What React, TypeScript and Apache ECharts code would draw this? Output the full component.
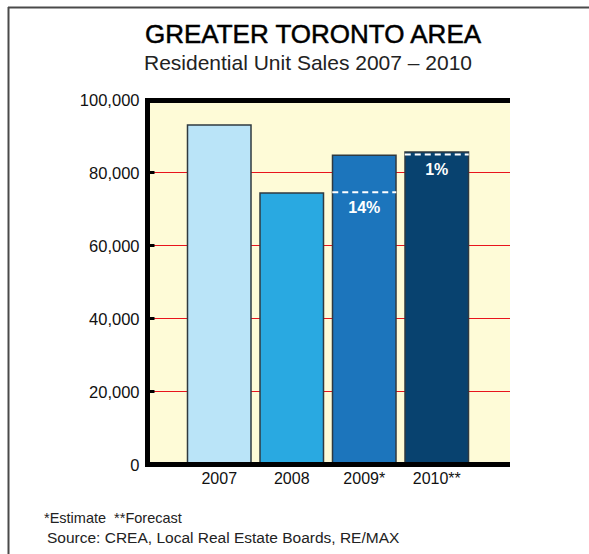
import React, { useEffect, useRef } from "react";
import * as echarts from "echarts";

const categories = ["2007", "2008", "2009*", "2010**"];
const sales = [93200, 74600, 84900, 85800];
const barColors = ["#bae4f8", "#29a9e1", "#1c75bc", "#08426f"];
const changeLabels = ["", "", "14%", "1%"];
const yTicks = [0, 20000, 40000, 60000, 80000, 100000];

const FONT = "'Liberation Sans', Arial, Helvetica, sans-serif";

export default function App() {
  const ref = useRef<HTMLDivElement>(null);
  useEffect(() => {
    document.body.style.margin = "0";
    const chart = echarts.init(ref.current!, undefined, { renderer: "svg" });
    const markData = sales
      .map((v, i) => (changeLabels[i] ? [i, sales[i - 1], changeLabels[i]] : null))
      .filter((d) => d !== null);
    const gridTop = 99.5;
    const gridH = 365;
    const plotLeft = 147.5;
    const plotRight = 510;
    chart.setOption({
      animation: false,
      backgroundColor: "#ffffff",
      textStyle: { fontFamily: FONT },
      grid: [
        {
          left: plotLeft,
          top: gridTop,
          width: plotRight - plotLeft,
          height: gridH,
          show: true,
          backgroundColor: "#fefbd7",
          borderColor: "transparent",
          borderWidth: 0,
          z: 0,
        },
        { left: 183, top: gridTop, width: 290, height: gridH },
      ],
      xAxis: [
        { gridIndex: 0, type: "value", min: 0, max: 1, show: false },
        {
          gridIndex: 1,
          type: "category",
          data: categories,
          axisLine: { show: false },
          axisTick: { show: false },
          axisLabel: { color: "#111", fontSize: 16, margin: 6, fontFamily: FONT },
        },
      ],
      yAxis: [
        {
          gridIndex: 0,
          type: "value",
          min: yTicks[0],
          max: yTicks[yTicks.length - 1],
          interval: 20000,
          axisLine: { show: false },
          axisTick: { show: true, inside: true, length: 7, lineStyle: { color: "#000", width: 3 } },
          axisLabel: {
            color: "#111",
            fontSize: 16.5,
            margin: 8,
            fontFamily: FONT,
            formatter: (v: number) => v.toLocaleString("en-US"),
          },
          splitLine: {
            show: true,
            lineStyle: { color: "#e8141c", width: 1 },
            showMinLine: false,
            showMaxLine: false,
          },
        },
        { gridIndex: 1, type: "value", min: 0, max: 100000, show: false },
      ],
      series: [
        {
          type: "bar",
          xAxisIndex: 1,
          yAxisIndex: 1,
          barWidth: 65,
          z: 3,
          data: sales.map((v, i) => ({
            value: v,
            itemStyle: { color: barColors[i], borderColor: "#2f3a40", borderWidth: 1.5 },
          })),
        },
        {
          type: "custom",
          xAxisIndex: 1,
          yAxisIndex: 1,
          z: 5,
          data: markData,
          renderItem: (params: any, api: any) => {
            const pt = api.coord([api.value(0), api.value(1)]);
            const half = 32;
            const label = markData[params.dataIndex]![2] as string;
            return {
              type: "group",
              children: [
                {
                  type: "line",
                  shape: { x1: pt[0] - half, y1: pt[1], x2: pt[0] + half, y2: pt[1] },
                  style: { stroke: "#ffffff", lineWidth: 2, lineDash: [6, 4] },
                },
                {
                  type: "text",
                  x: pt[0],
                  y: pt[1] + 15,
                  style: {
                    text: label,
                    fill: "#ffffff",
                    font: `bold 16px ${FONT}`,
                    align: "center",
                    verticalAlign: "middle",
                  },
                },
              ],
            };
          },
        },
      ],
      graphic: [
        {
          type: "line",
          shape: { x1: 8, y1: 7.5, x2: 589, y2: 7.5 },
          style: { stroke: "#4a4a4a", lineWidth: 2 },
        },
        {
          type: "line",
          shape: { x1: 8.5, y1: 7, x2: 8.5, y2: 554 },
          style: { stroke: "#4a4a4a", lineWidth: 2 },
        },
        {
          type: "polyline",
          shape: {
            points: [
              [plotRight, 100.5],
              [plotLeft, 100.5],
              [plotLeft, 464.5],
              [plotRight, 464.5],
            ],
          },
          style: { fill: "none", stroke: "#000", lineWidth: 5 },
          z: 10,
        },
        {
          type: "text",
          x: 313,
          y: 34,
          style: {
            text: "GREATER TORONTO AREA",
            font: `26px ${FONT}`,
            fill: "#000",
            stroke: "#000",
            lineWidth: 0.5,
            align: "center",
            verticalAlign: "middle",
          },
        },
        {
          type: "text",
          x: 308,
          y: 62,
          style: {
            text: "Residential Unit Sales 2007 – 2010",
            font: `21px ${FONT}`,
            fill: "#222",
            align: "center",
            verticalAlign: "middle",
          },
        },
        {
          type: "text",
          x: 44,
          y: 518,
          style: {
            text: "*Estimate  **Forecast",
            font: `14.5px ${FONT}`,
            fill: "#222",
            align: "left",
            verticalAlign: "middle",
          },
        },
        {
          type: "text",
          x: 47,
          y: 537,
          style: {
            text: "Source: CREA, Local Real Estate Boards, RE/MAX",
            font: `15.5px ${FONT}`,
            fill: "#222",
            align: "left",
            verticalAlign: "middle",
          },
        },
      ],
    });
    return () => chart.dispose();
  }, []);
  return <div ref={ref} style={{ width: 589, height: 554 }} />;
}
